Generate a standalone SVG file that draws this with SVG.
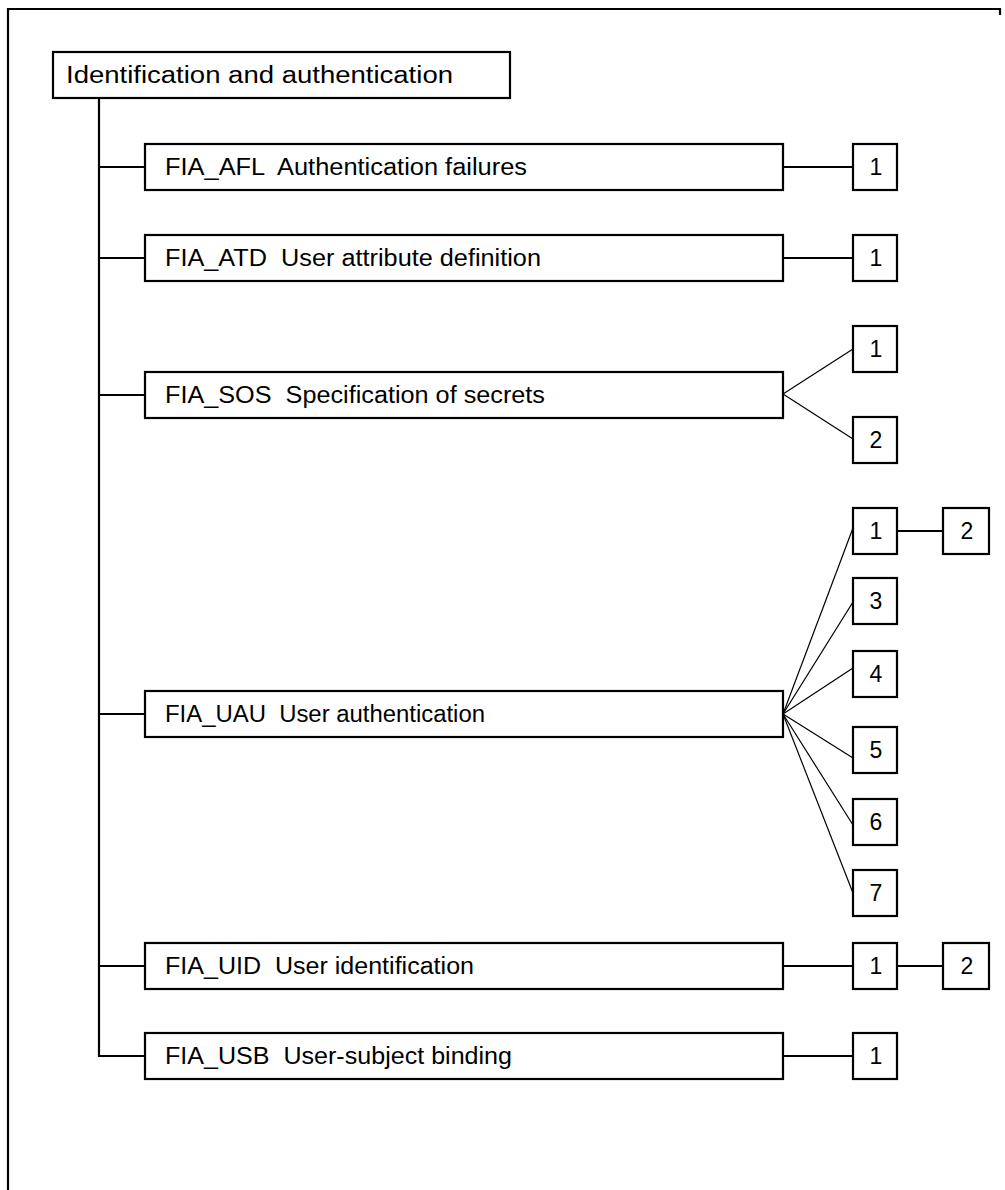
<svg xmlns="http://www.w3.org/2000/svg" width="1005" height="1190" viewBox="0 0 1005 1190">
<style>
rect.b{fill:#fff;stroke:#000;stroke-width:2.2}
.t{font-family:"Liberation Sans",Arial,sans-serif;font-size:23px;fill:#000;white-space:pre}
.n{font-family:"Liberation Sans",Arial,sans-serif;font-size:23px;fill:#000;text-anchor:middle}
.c line,.c path{stroke:#000;fill:none}
.thick{stroke-width:2.2}
.thin{stroke-width:1.2}
</style>
<rect width="1005" height="1190" fill="#fff"/>
<path d="M8,1190 V9 H1000 V15" fill="none" stroke="#000" stroke-width="2.2"/>
<g class="c" id="connectors">
<path class="thick" d="M99,98 V1056 H145"/>
<line class="thick" x1="99" y1="167" x2="145" y2="167"/>
<line class="thick" x1="99" y1="258" x2="145" y2="258"/>
<line class="thick" x1="99" y1="395" x2="145" y2="395"/>
<line class="thick" x1="99" y1="714" x2="145" y2="714"/>
<line class="thick" x1="99" y1="966" x2="145" y2="966"/>
<line class="thick" x1="783" y1="167" x2="853" y2="167"/>
<line class="thick" x1="783" y1="258" x2="853" y2="258"/>
<line class="thin" x1="783" y1="394" x2="853" y2="349"/>
<line class="thin" x1="783" y1="394" x2="853" y2="439"/>
<line class="thin" x1="783" y1="714" x2="853" y2="528"/>
<line class="thin" x1="783" y1="714" x2="853" y2="602"/>
<line class="thin" x1="783" y1="714" x2="853" y2="668"/>
<line class="thin" x1="783" y1="714" x2="853" y2="758"/>
<line class="thin" x1="783" y1="714" x2="853" y2="825"/>
<line class="thin" x1="783" y1="714" x2="853" y2="893"/>
<line class="thick" x1="897" y1="531" x2="943" y2="531"/>
<line class="thick" x1="783" y1="966" x2="853" y2="966"/>
<line class="thick" x1="897" y1="966" x2="943" y2="966"/>
<line class="thick" x1="783" y1="1056" x2="853" y2="1056"/>
</g>
<g id="root"><rect class="b" x="53" y="52" width="457" height="46"/><text class="t" x="66" y="83" textLength="387" lengthAdjust="spacingAndGlyphs">Identification and authentication</text></g>
<g id="afl"><rect class="b" x="145" y="144" width="638" height="46"/><text class="t" x="165" y="175" textLength="362" lengthAdjust="spacingAndGlyphs">FIA_AFL  Authentication failures</text></g>
<g id="atd"><rect class="b" x="145" y="235" width="638" height="46"/><text class="t" x="165" y="266" textLength="376" lengthAdjust="spacingAndGlyphs">FIA_ATD  User attribute definition</text></g>
<g id="sos"><rect class="b" x="145" y="372" width="638" height="46"/><text class="t" x="165" y="403" textLength="380" lengthAdjust="spacingAndGlyphs">FIA_SOS  Specification of secrets</text></g>
<g id="uau"><rect class="b" x="145" y="691" width="638" height="46"/><text class="t" x="165" y="722" textLength="320" lengthAdjust="spacingAndGlyphs">FIA_UAU  User authentication</text></g>
<g id="uid"><rect class="b" x="145" y="943" width="638" height="46"/><text class="t" x="165" y="974" textLength="309" lengthAdjust="spacingAndGlyphs">FIA_UID  User identification</text></g>
<g id="usb"><rect class="b" x="145" y="1033" width="638" height="46"/><text class="t" x="165" y="1064" textLength="347" lengthAdjust="spacingAndGlyphs">FIA_USB  User-subject binding</text></g>
<g id="afl1"><rect class="b" x="853" y="144" width="44" height="46"/><text class="n" x="876" y="175">1</text></g>
<g id="atd1"><rect class="b" x="853" y="235" width="44" height="46"/><text class="n" x="876" y="266">1</text></g>
<g id="sos1"><rect class="b" x="853" y="326" width="44" height="46"/><text class="n" x="876" y="357">1</text></g>
<g id="sos2"><rect class="b" x="853" y="417" width="44" height="46"/><text class="n" x="876" y="448">2</text></g>
<g id="uau1"><rect class="b" x="853" y="508" width="44" height="46"/><text class="n" x="876" y="539">1</text></g>
<g id="uau2"><rect class="b" x="943" y="508" width="46" height="46"/><text class="n" x="967" y="539">2</text></g>
<g id="uau3"><rect class="b" x="853" y="578" width="44" height="46"/><text class="n" x="876" y="609">3</text></g>
<g id="uau4"><rect class="b" x="853" y="651" width="44" height="46"/><text class="n" x="876" y="682">4</text></g>
<g id="uau5"><rect class="b" x="853" y="727" width="44" height="46"/><text class="n" x="876" y="758">5</text></g>
<g id="uau6"><rect class="b" x="853" y="799" width="44" height="46"/><text class="n" x="876" y="830">6</text></g>
<g id="uau7"><rect class="b" x="853" y="870" width="44" height="46"/><text class="n" x="876" y="901">7</text></g>
<g id="uid1"><rect class="b" x="853" y="943" width="44" height="46"/><text class="n" x="876" y="974">1</text></g>
<g id="uid2"><rect class="b" x="943" y="943" width="46" height="46"/><text class="n" x="967" y="974">2</text></g>
<g id="usb1"><rect class="b" x="853" y="1033" width="44" height="46"/><text class="n" x="876" y="1064">1</text></g>
</svg>
